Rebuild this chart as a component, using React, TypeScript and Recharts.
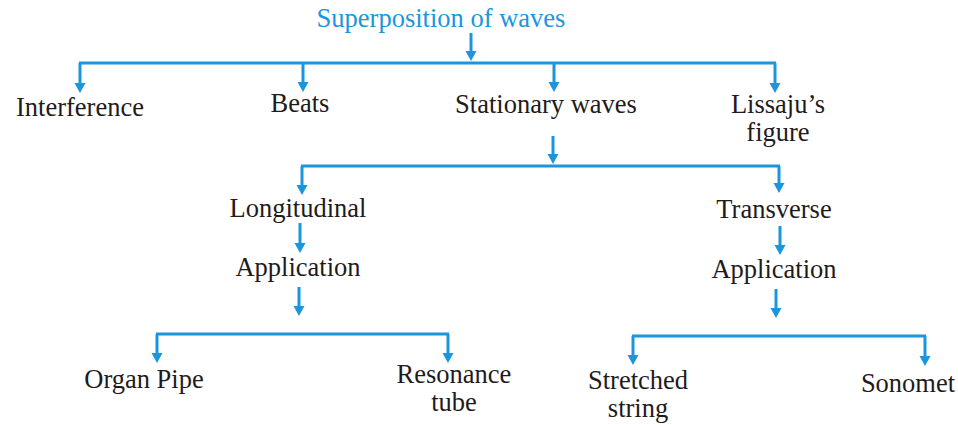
import React from "react";
import { ScatterChart, Scatter, XAxis, YAxis, ReferenceLine } from "recharts";

// Node labels: centre x, first baseline y (diagram units = pixels), text lines
const nodeLabels = [
  { id: "root", x: 441, y: 27, lines: ["Superposition of waves"], root: true },
  { id: "interference", x: 80, y: 116, lines: ["Interference"] },
  { id: "beats", x: 300, y: 112, lines: ["Beats"] },
  { id: "stationary", x: 546, y: 113, lines: ["Stationary waves"] },
  { id: "lissaju", x: 778, y: 113, lines: ["Lissaju\u2019s", "figure"] },
  { id: "longitudinal", x: 298, y: 217, lines: ["Longitudinal"] },
  { id: "transverse", x: 774, y: 218, lines: ["Transverse"] },
  { id: "appL", x: 298, y: 276, lines: ["Application"] },
  { id: "appT", x: 774, y: 278, lines: ["Application"] },
  { id: "organ", x: 144, y: 388, lines: ["Organ Pipe"] },
  { id: "resonance", x: 454, y: 383, lines: ["Resonance", "tube"] },
  { id: "stretched", x: 638, y: 389, lines: ["Stretched", "string"] },
  { id: "sonomet", x: 908, y: 392, lines: ["Sonomet"] },
];

// Connector segments
const connectorSegments = [
  { x1: 471, y1: 33, x2: 471, y2: 53 },
  { x1: 79, y1: 63, x2: 776, y2: 63 },
  { x1: 80, y1: 63, x2: 80, y2: 85 },
  { x1: 303, y1: 63, x2: 303, y2: 84 },
  { x1: 554, y1: 63, x2: 554, y2: 84 },
  { x1: 775, y1: 63, x2: 775, y2: 85 },
  { x1: 553, y1: 136, x2: 553, y2: 156 },
  { x1: 301, y1: 166, x2: 780, y2: 166 },
  { x1: 302, y1: 166, x2: 302, y2: 187 },
  { x1: 779, y1: 166, x2: 779, y2: 185 },
  { x1: 300, y1: 223, x2: 300, y2: 245 },
  { x1: 299, y1: 287, x2: 299, y2: 308 },
  { x1: 780, y1: 226, x2: 780, y2: 247 },
  { x1: 776, y1: 289, x2: 776, y2: 310 },
  { x1: 156, y1: 334, x2: 449, y2: 334 },
  { x1: 157, y1: 334, x2: 157, y2: 355 },
  { x1: 448, y1: 334, x2: 448, y2: 355 },
  { x1: 632, y1: 336, x2: 926, y2: 336 },
  { x1: 633, y1: 336, x2: 633, y2: 357 },
  { x1: 925, y1: 336, x2: 925, y2: 358 },
];

// Arrow tips
const arrowTips = [
  { x: 471, y: 61 },
  { x: 80, y: 93 },
  { x: 303, y: 92 },
  { x: 554, y: 92 },
  { x: 775, y: 93 },
  { x: 553, y: 164 },
  { x: 302, y: 195 },
  { x: 779, y: 193 },
  { x: 300, y: 253 },
  { x: 299, y: 316 },
  { x: 780, y: 255 },
  { x: 776, y: 318 },
  { x: 157, y: 363 },
  { x: 448, y: 363 },
  { x: 633, y: 365 },
  { x: 925, y: 366 },
];

const BLUE = "#1b96dc";
const INK = "#1f1b1c";
const W = 958;
const H = 425;
const SERIF = "'Liberation Serif', 'Times New Roman', Times, serif";

const LabelShape = (props: any) => {
  const { cx, cy, payload } = props;
  if (cx == null || cy == null) return null;
  return (
    <text
      x={cx}
      y={cy}
      textAnchor="middle"
      style={{ fontFamily: SERIF, fontSize: 26.5 }}
      fill={payload.root ? BLUE : INK}
    >
      {payload.lines.map((l: string, i: number) => (
        <tspan key={i} x={cx} dy={i === 0 ? 0 : 27.5}>
          {l}
        </tspan>
      ))}
    </text>
  );
};

const ArrowShape = (props: any) => {
  const { cx, cy } = props;
  if (cx == null || cy == null) return null;
  return (
    <polygon
      points={`${cx - 5.5},${cy - 10} ${cx + 5.5},${cy - 10} ${cx},${cy}`}
      fill={BLUE}
    />
  );
};

export default function App() {
  return (
    <div style={{ position: "absolute", left: 0, top: 0, width: W, height: H, background: "#fff", fontFamily: SERIF }}>
      <ScatterChart width={W} height={H} margin={{ top: 0, right: 0, bottom: 0, left: 0 }} style={{ fontFamily: SERIF }}>
        <XAxis type="number" dataKey="x" domain={[0, W]} hide allowDataOverflow />
        <YAxis type="number" dataKey="y" domain={[0, H]} reversed hide allowDataOverflow />
        {connectorSegments.map((s, i) => (
          <ReferenceLine
            key={i}
            segment={[
              { x: s.x1, y: s.y1 },
              { x: s.x2, y: s.y2 },
            ]}
            stroke={BLUE}
            strokeWidth={3}
            ifOverflow="visible"
          />
        ))}
        <Scatter data={arrowTips} shape={ArrowShape} isAnimationActive={false} />
        <Scatter data={nodeLabels} shape={LabelShape} isAnimationActive={false} />
      </ScatterChart>
    </div>
  );
}
